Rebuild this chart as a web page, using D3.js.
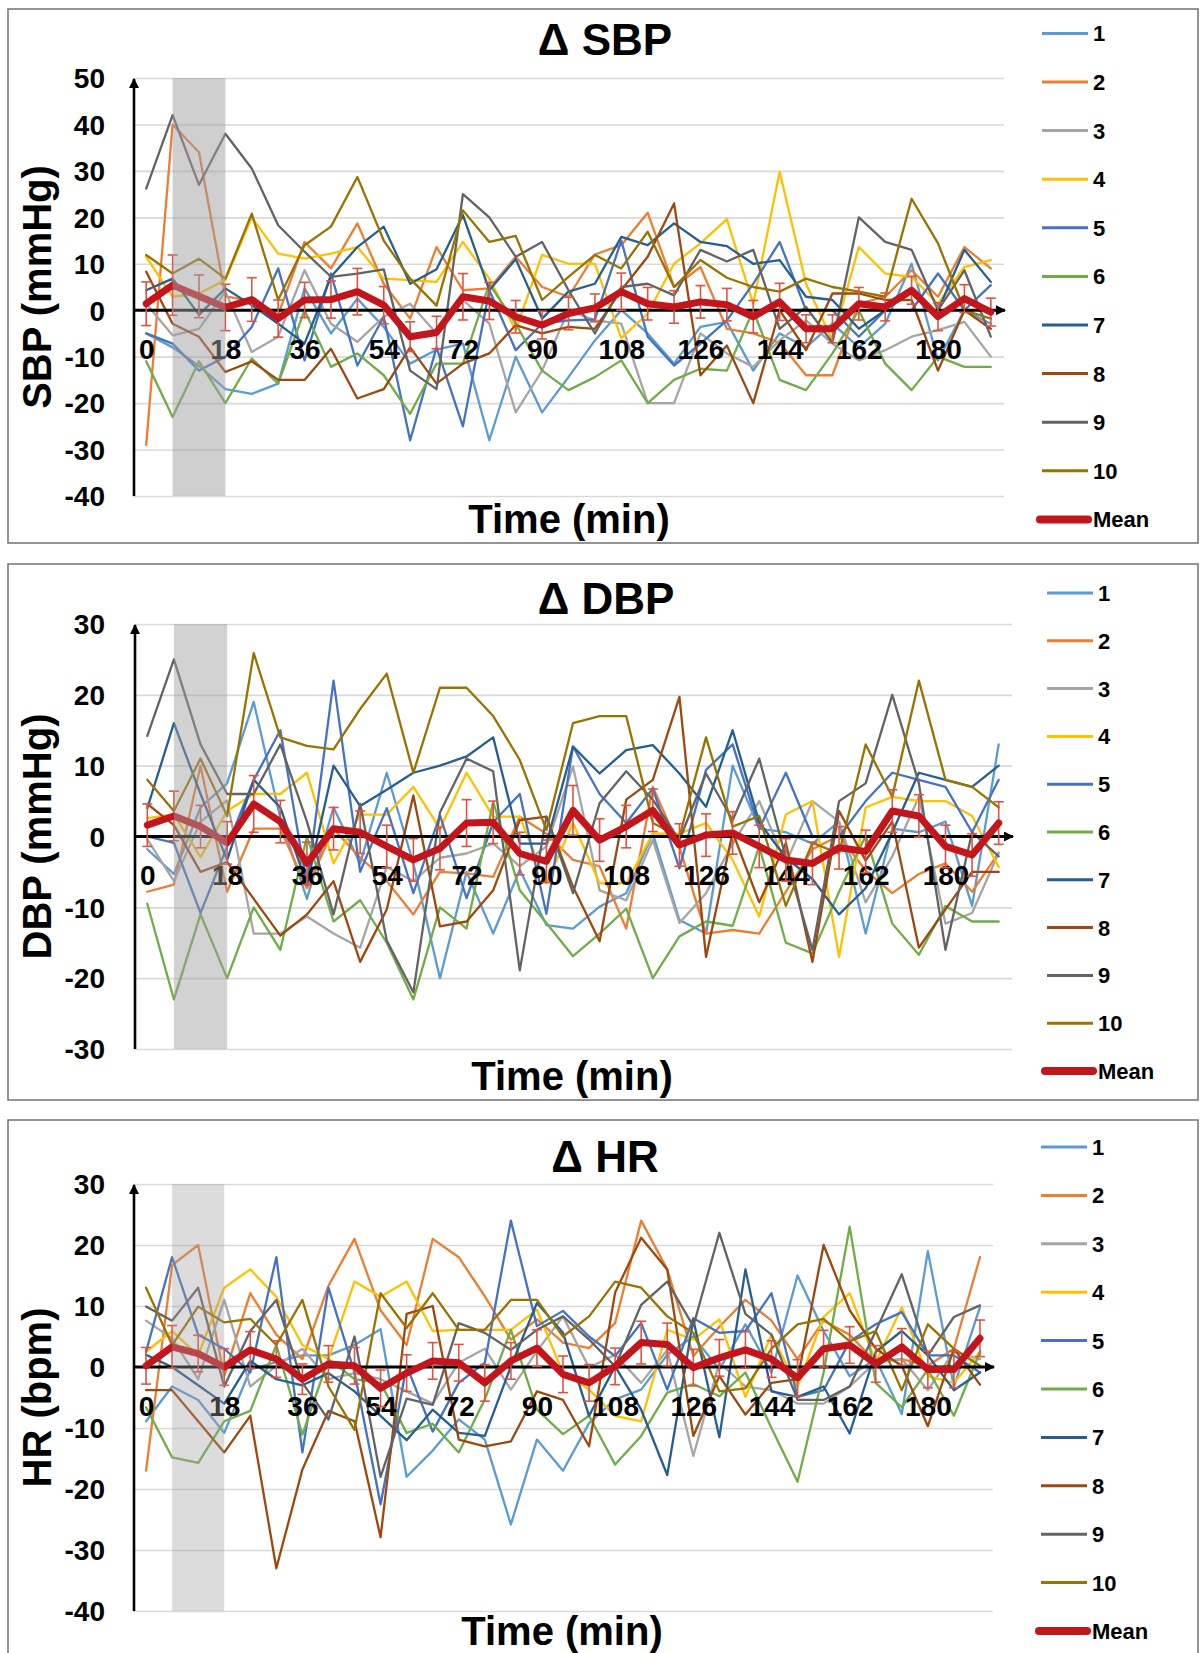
<!DOCTYPE html>
<html><head><meta charset="utf-8">
<script src="https://cdn.jsdelivr.net/npm/d3@7"></script>
<style>
html,body{margin:0;padding:0;background:#fff;}
svg{display:block;font-family:"Liberation Sans",Arial,Helvetica,sans-serif;font-weight:bold;}
</style></head><body>
<svg id="chart" width="1200" height="1653"></svg>
<script>
// ---------- DATA ----------
const times = [0,6,12,18,24,30,36,42,48,54,60,66,72,78,84,90,96,102,108,114,120,126,132,138,144,150,156,162,168,174,180,186,192];
const timeTickLabels = [0,18,36,54,72,90,108,126,144,162,180];
const seriesNames = ["1","2","3","4","5","6","7","8","9","10"];
const seriesColors = ["#5B9BD5","#ED7D31","#A5A5A5","#FFC000","#4472C4","#70AD47","#255E91","#9E480E","#636363","#997300"];
const sbpTicks = [50,40,30,20,10,0,-10,-20,-30,-40];
const dbpTicks = [30,20,10,0,-10,-20,-30];
const hrTicks = [30,20,10,0,-10,-20,-30,-40];

const sbpSeries = [
 [-5,-8,-12,-17,-18,-15.8,4.7,-5,2.5,-3.6,-11.5,-8.5,-7.2,-28,-10,-22,-14.4,-6.5,0,-5,-11.5,-3.6,-2.5,-13,-5,-8,-2.9,-8,-2.9,10,-10.8,0,-2.9],
 [-29,40,34,3,2,-1,14.7,9,18.7,5.7,-1.8,13.6,4.3,4.7,11.5,5,2.9,12,14,21,5,9.3,-4,-5,-7,-14,-14,1.4,2.9,8.6,2.9,13.6,9],
 [1.4,-5.4,-4,4,-9,-5.7,8.6,-2.9,-6.8,-1.4,1.4,-5,2.2,-2.9,-22,-13,0,-2.2,-2.9,-20,-20,-5,-9.3,-12.2,-6.5,-2.2,-7.2,-10.8,-8.6,-5.7,-4.3,-2.5,-10],
 [11.5,2.9,3.6,6.5,20,12.2,11.1,12.2,13.6,6.8,6.5,6.1,14.7,6.8,-4.3,11.9,10,10,-6,-0.7,10,14.4,19.6,1.4,29.8,5.7,-6.5,13.6,7.9,7.2,1.4,9.3,10.8],
 [-5,-7.2,-13,-10,-3.6,9,-10.8,7.9,-11.9,-1.4,-28,-8,-25,4.3,-8.6,-2.9,-2.2,-2,15,-5.7,-11.9,-7.2,-2.2,5.7,14.7,0,0,-5.7,0,0,7.9,0,5.4],
 [-11,-23,-11,-20,-10.4,-15.8,0,-12.2,-9.3,-14,-22.3,-11.5,-11.5,5.7,-2.9,-13,-17.2,-14.4,-10.8,-20,-15,-12.6,-13,0,-15,-17.2,-9.3,0,-11.5,-17.2,-10,-12.2,-12.2],
 [4.3,6.8,-1,4.7,1.1,-2.9,-7.2,7.2,13.6,18,5.7,8.8,20.5,4.3,11,-1.8,4,5.7,15.8,14,18.7,14.7,13.8,10,10.8,2.9,2.2,-4,0,0,0,13,6.1],
 [8.3,-2.9,-5.7,-13.3,-11,-15,-15,-8.3,-19,-17,-8,-15.8,-11.5,-9.3,-3.2,-5,-3.6,-4,4.3,11.5,23,-14,-7.6,-20,0,-8.6,3.6,3.6,2.2,2.2,-13,0,-4],
 [26.2,42,27,38,30.5,18.3,12.6,7.2,7.9,8.8,-13,-17,25,20,11.5,14.7,4.3,-5,5,5.7,3.2,13,10.5,13,-4,0.7,-7,20,14.7,13,0,8.6,-5.7],
 [11.9,7.9,11.1,6.8,20.8,2.2,14,18,28.7,15,6.8,1,21.5,14.7,16,2.2,7.2,11.9,9,16.9,5,10.8,7,5,4,6.8,5,4,2.9,24,14.4,0,-1.8]
];
const sbpMean = [1.4,5.4,3.0,0.6,2.3,-1.8,2.2,2.3,4.0,1.1,-5.7,-4.8,2.9,2.0,-1.4,-3.2,-0.7,0.5,4.0,1.4,0.7,1.8,1.2,-1.4,1.8,-4.0,-4.0,1.4,0.7,4.3,-1.4,2.5,-0.4];
const sbpErr = [4.7,6.5,4.6,5,4.7,4,3.8,4,5,4,3.2,3.5,5,4,3.5,3,3.5,3,4,3.5,3.5,3.5,3.5,3.5,4,3,3,3.5,3,3,3,3,3];

const dbpSeries = [
 [-1.8,-5.3,4.1,7.5,19,2.6,-8.8,4.1,-3.8,9,-3.8,-20,-5,-13.7,-4.7,-12.5,-13,-9.9,-8,0.4,-11.8,-13.7,10,1.1,0.6,-1,2.1,-13.7,1.1,0.6,2.1,-9.8,13],
 [-7.8,-6.8,10,-7.8,1.1,1.1,-7.3,1.1,-3,-6.3,-11,-5,-5.2,-5.7,2.8,0.4,-3.3,-4.2,-13,7,-1.5,-13.7,-13.2,-13.7,-7.8,-1.8,0.1,-4.8,-8,-5.3,-3.8,-7.8,-2.3],
 [-0.4,-6.3,2.1,5.1,-13.7,-13.7,-11.3,-13.7,-15.7,-4.3,-6.3,-3,-2.4,-1,-4.2,-1.4,9.9,-7.6,-9,-0.5,-12.2,-8,-1,5,-3.8,5,2.1,-9.3,-2.8,5.6,-12.3,-10.8,-2.3],
 [2.6,3.1,-2.9,3.6,6,6,9,-3.8,3.1,3.1,7,1.1,9,2.8,2.8,-6.6,1.9,-6.6,-6.6,0.4,0.4,1.9,-3.3,-11.3,3.1,5,-17,4.1,5.6,5,5,2.9,-4.3],
 [0,-0.9,-10.8,-1.4,8,15,-6.8,22,-5,4,-8,3,-8.7,2,6,-10.9,12.7,6,1.9,6.8,-4.5,9.4,13,1.1,9,0,0,5,9,8,7,0.6,8],
 [-9.5,-23,-11,-20,-10,-16,0,-12,-9,-15,-23,-10,-13,4.9,-7.6,-12.2,-16.9,-13.7,-10.2,-20,-14.1,-12,-12.6,-1.4,-15,-16.5,-7.8,0.1,-12.3,-16.7,-9.8,-12,-12],
 [4,16,6,-3.3,8,4.1,-6.8,10,4.3,6.6,9,10,11.3,14,-1,-1,12.7,8.9,12.2,12.9,8.9,4.2,15,2,-3,-6,-11,-7.3,0.6,9,8,7,10],
 [4.6,1.6,-5,-3.6,-8.8,-14,-11,-6.3,-17.7,-10.3,5.8,-12.7,-12,-7.6,2.3,2.8,-7.1,-14.8,5.2,8,19.7,-17,0.6,-9.3,-0.9,-17.7,3.6,-3.4,2.1,-15.7,-10.3,-5,-5],
 [14.2,25,13,6,6,13,2.1,-11,4.6,-14.7,-22,3.4,11,9.2,-18.9,2.8,-8,4.7,9.2,5.2,-0.5,8.9,2.3,11,-3,-16,5,7.5,20,7.5,-16,0.6,-2.8],
 [8,3.6,11,2.9,25.9,14,12.8,12.3,18,23,9,21,21,17,10.8,0.9,16,17,17,1.9,0,14,1.4,2.9,-9.8,-0.9,-2.4,13,5.6,22,8,7,4.1]
];
const dbpMean = [1.6,2.9,1.4,-0.9,4.6,2.1,-3.8,1.1,0.6,-1.4,-3.3,-1.7,1.9,2.0,-2.4,-3.5,3.7,-0.5,1.4,3.7,-1.2,0.2,0.5,-1.4,-3.3,-3.8,-1.6,-2.1,3.6,2.9,-1.4,-2.6,1.9];
const dbpErr = [3,3.5,3,3,4,3,3,3,3,3,3,3,3.3,3,3,3,3.5,3,3,3,3,3,3,3,3,3,3,3,3,3,3,3,3];

const hrSeries = [
 [-8.9,-3.2,-5.4,-10.8,-0.4,0.8,1.9,1.9,3.6,6.2,-18,-13.7,-8.6,-11.9,-25.8,-11.9,-17,-9.2,-5.3,-3.7,2,5,-0.4,7,-0.9,15,5.9,-1.5,1.3,-7.7,19,-3.2,9.8],
 [-17,16.7,20,-1.5,12.1,5.3,1.3,13.3,21,9.3,3.6,21,18,11.6,4.5,7.8,4,3.1,7.2,24,16,1.8,6.6,11,7.6,1.3,7.6,5.3,0.8,1.3,0.2,3,18],
 [7.6,4.7,-2,11,-3.2,0.2,3,-2,-1,-2,-4,-6,0.7,3,-3.7,2.6,8.3,-0.1,2,-2.6,2.8,-14.6,0.7,-3.2,-3.8,-6,-6,-3.2,0.8,1.3,-3.8,2.5,1.3],
 [2.5,5.9,1.9,13,16,11.5,3.6,1.3,14,11.5,14,5.9,6.1,6.1,6.1,9.4,-1,-3.7,-8,-8.9,6.1,4.5,7.8,-4.9,5.3,-3.2,8.2,12.1,0.8,9.8,-1.5,-2.6,2.5],
 [2.5,18,5.3,3,-0.9,18,-14,13,-0.9,-22.5,0.2,-10.6,-2.6,0.7,24,6.7,9.2,5,1.8,7.2,-3.7,8,5.6,5.9,12.1,-4.9,-3.8,4.2,7,9,1.9,1.9,-0.9],
 [-6.6,-14.8,-15.7,-8.9,-7.2,3.6,-11.1,1.3,-2,-2.6,-10.8,-9.3,-14,-5.3,6.1,-7,-11,-8,-16,-11.3,-4.2,-2.8,-4.8,-0.9,-10,-18.8,-0.9,23,-2.6,-6.6,-0.4,-8,2.5],
 [2,0,-3,-6,1,-2,-3,-1,-4,-8,-12,-7,-10.8,-11.3,0.1,10.5,5.6,-8,0.1,-7,-17.7,7.8,-11.5,16,-4,-4.9,-3.2,-10.9,2.5,5.9,1.9,-3.8,-0.9],
 [-3.8,-3.8,-8.9,-14,-8,-33,-16.8,-7.2,-8.9,-27.9,8.7,10,-11.9,-13,-12.2,-4,-5.4,-13,12.2,21.2,16,-11.3,-1.5,-7.8,-2.6,-2,20,9.3,3,0.2,-9.7,3,-2.9],
 [9.9,7.6,13,-3.2,5.9,11,-2.6,-8.6,5,-18,-5.2,-6.2,7.2,5.6,2.8,6.1,8.3,4.5,0.1,10.2,14,6.7,22,8.7,5.3,-5.4,-5.4,-3.2,5.9,15.2,1.9,8.2,10.1],
 [13,3.6,9.9,7.3,7.9,3.6,11,-3.2,-10.3,12.1,6.4,12.1,6.1,6.1,11,11,5,8.3,14,13,8.3,5.6,-4,-3.5,3,7,7.9,4.2,5.9,-3.8,7,3,0.2]
];
const hrMean = [0.2,3.3,2.2,0,2.8,1.3,-2,0.5,0.2,-3.5,-1,1,0.7,-2.6,1,3.1,-1.2,-2.6,0.1,4,3.7,-0.1,1.5,2.8,1.3,-1.8,3,3.6,0.5,3.3,-0.4,-0.4,4.7];
const hrErr = [3,3.5,3,3,3,3,2.5,3,3,3,3,3,3,3,3,3,3,3,3,3.5,3.5,3,3,3,3,3,3,3,3,3,3,3,3];

// ---------- DRAW ----------
const svg = d3.select("#chart");
const defs = svg.append("defs");
defs.append("marker").attr("id","arrow").attr("viewBox","0 0 10 10")
  .attr("refX",9).attr("refY",5).attr("markerWidth",11).attr("markerHeight",10)
  .attr("markerUnits","userSpaceOnUse").attr("orient","auto")
  .append("path").attr("d","M0,0 L10,5 L0,10 Z").attr("fill","#000");

const panels = [
  {title:"\u0394 SBP", ytitle:"SBP (mmHg)", ticks:sbpTicks, series:sbpSeries, mean:sbpMean, err:sbpErr,
   frame:[8,9,1198,543], left:133, right:1004, top:78, bottom:496, domain:[-40,50],
   titleX:605, titleY:55, xtitleX:569, xtitleY:533, bandOp:0.5,
   legX:1042, legY:33.4, legStep:48.6},
  {title:"\u0394 DBP", ytitle:"DBP (mmHg)", ticks:dbpTicks, series:dbpSeries, mean:dbpMean, err:dbpErr,
   frame:[8,564,1198,1100], left:134, right:1012, top:624, bottom:1049, domain:[-30,30],
   titleX:606, titleY:614, xtitleX:572, xtitleY:1090, bandOp:0.47,
   legX:1047, legY:593, legStep:47.8},
  {title:"\u0394 HR", ytitle:"HR (bpm)", ticks:hrTicks, series:hrSeries, mean:hrMean, err:hrErr,
   frame:[8,1120,1198,1700], left:133, right:993, top:1184, bottom:1611, domain:[-40,30],
   titleX:605, titleY:1172, xtitleX:562, xtitleY:1645, bandOp:0.37,
   legX:1041, legY:1147, legStep:48.4}
];

panels.forEach(p => {
  const g = svg.append("g");
  g.append("rect").attr("x",p.frame[0]).attr("y",p.frame[1])
    .attr("width",p.frame[2]-p.frame[0]).attr("height",p.frame[3]-p.frame[1])
    .attr("fill","#fff").attr("stroke","#7a7a7a").attr("stroke-width",1.6);

  const x = d3.scalePoint().domain(times).range([p.left,p.right]).padding(0.5);
  const y = d3.scaleLinear().domain(p.domain).range([p.bottom,p.top]);

  // gridlines
  const grid = g.append("g").attr("transform",`translate(${p.left},0)`)
    .call(d3.axisLeft(y).tickValues(p.ticks.filter(t=>t!==0)).tickSize(-(p.right-p.left)).tickFormat(""));
  grid.select(".domain").remove();
  grid.selectAll("line").attr("stroke","#d9d9d9").attr("stroke-width",1.6);

  // y tick labels (plain hyphen minus as in the original)
  const ya = g.append("g").attr("transform","translate(106,0)")
    .call(d3.axisLeft(y).tickValues(p.ticks).tickSize(0).tickPadding(1).tickFormat(d => String(d)));
  ya.select(".domain").remove();
  ya.selectAll("text").attr("font-size",28).attr("font-weight","bold").attr("fill","#000")
    .attr("font-family",'"Liberation Sans",Arial,sans-serif').attr("dy","0.35em");

  // series lines
  const line = d3.line().x((d,i)=>x(times[i])).y(d=>y(d));
  p.series.forEach((vals,k) => {
    g.append("path").attr("d",line(vals)).attr("fill","none")
      .attr("stroke",seriesColors[k]).attr("stroke-width",2.3)
      .attr("stroke-linejoin","round").attr("stroke-linecap","round");
  });

  // x axis (zero line) with arrow
  g.append("line").attr("x1",p.left).attr("x2",p.right+1).attr("y1",y(0)).attr("y2",y(0))
    .attr("stroke","#000").attr("stroke-width",3).attr("marker-end","url(#arrow)");
  // y axis with arrow
  g.append("line").attr("x1",p.left+1).attr("x2",p.left+1).attr("y1",p.bottom).attr("y2",p.top+1)
    .attr("stroke","#000").attr("stroke-width",2.6).attr("marker-end","url(#arrow)");

  // category labels
  const xa = g.append("g").attr("transform",`translate(0,${y(0)+39})`)
    .call(d3.axisBottom(x).tickValues(timeTickLabels).tickSize(0).tickPadding(0).tickFormat(d => String(d)));
  xa.select(".domain").remove();
  xa.selectAll("text").attr("font-size",28).attr("font-weight","bold").attr("fill","#000")
    .attr("font-family",'"Liberation Sans",Arial,sans-serif').attr("dy","0.35em");

  // error bars
  const eb = g.append("g").attr("stroke","#E0533F").attr("stroke-width",1.6);
  p.mean.forEach((m,i) => {
    const cx = x(times[i]), e = p.err[i];
    eb.append("line").attr("x1",cx).attr("x2",cx).attr("y1",y(m-e)).attr("y2",y(m+e));
    eb.append("line").attr("x1",cx-5).attr("x2",cx+5).attr("y1",y(m-e)).attr("y2",y(m-e));
    eb.append("line").attr("x1",cx-5).attr("x2",cx+5).attr("y1",y(m+e)).attr("y2",y(m+e));
  });
  // mean line
  g.append("path").attr("d",line(p.mean)).attr("fill","none")
    .attr("stroke","#C3161C").attr("stroke-width",7)
    .attr("stroke-linejoin","round").attr("stroke-linecap","round");

  // shaded band overlay (6-18 min)
  g.append("rect").attr("x",x(6)).attr("width",x(18)-x(6))
    .attr("y",p.top).attr("height",p.bottom-p.top)
    .attr("fill","#a0a0a0").attr("opacity",p.bandOp);

  // titles
  g.append("text").attr("x",p.titleX).attr("y",p.titleY).attr("text-anchor","middle")
    .attr("font-size",44).text(p.title);
  g.append("text").attr("x",p.xtitleX).attr("y",p.xtitleY).attr("text-anchor","middle")
    .attr("font-size",40).text("Time (min)");
  g.append("text").attr("transform",`translate(51,${(p.top+p.bottom)/2}) rotate(-90)`)
    .attr("text-anchor","middle").attr("font-size",40).text(p.ytitle);

  // legend
  const leg = g.append("g");
  seriesNames.forEach((n,k) => {
    const ly = p.legY + k*p.legStep;
    leg.append("line").attr("x1",p.legX).attr("x2",p.legX+46).attr("y1",ly).attr("y2",ly)
      .attr("stroke",seriesColors[k]).attr("stroke-width",3);
    leg.append("text").attr("x",p.legX+51).attr("y",ly).attr("dy","0.36em")
      .attr("font-size",22).text(n);
  });
  const my = p.legY + 10*p.legStep;
  leg.append("line").attr("x1",p.legX-2).attr("x2",p.legX+46).attr("y1",my).attr("y2",my)
    .attr("stroke","#C3161C").attr("stroke-width",8).attr("stroke-linecap","round");
  leg.append("text").attr("x",p.legX+51).attr("y",my).attr("dy","0.36em")
    .attr("font-size",22).text("Mean");
});
</script>
</body></html>
